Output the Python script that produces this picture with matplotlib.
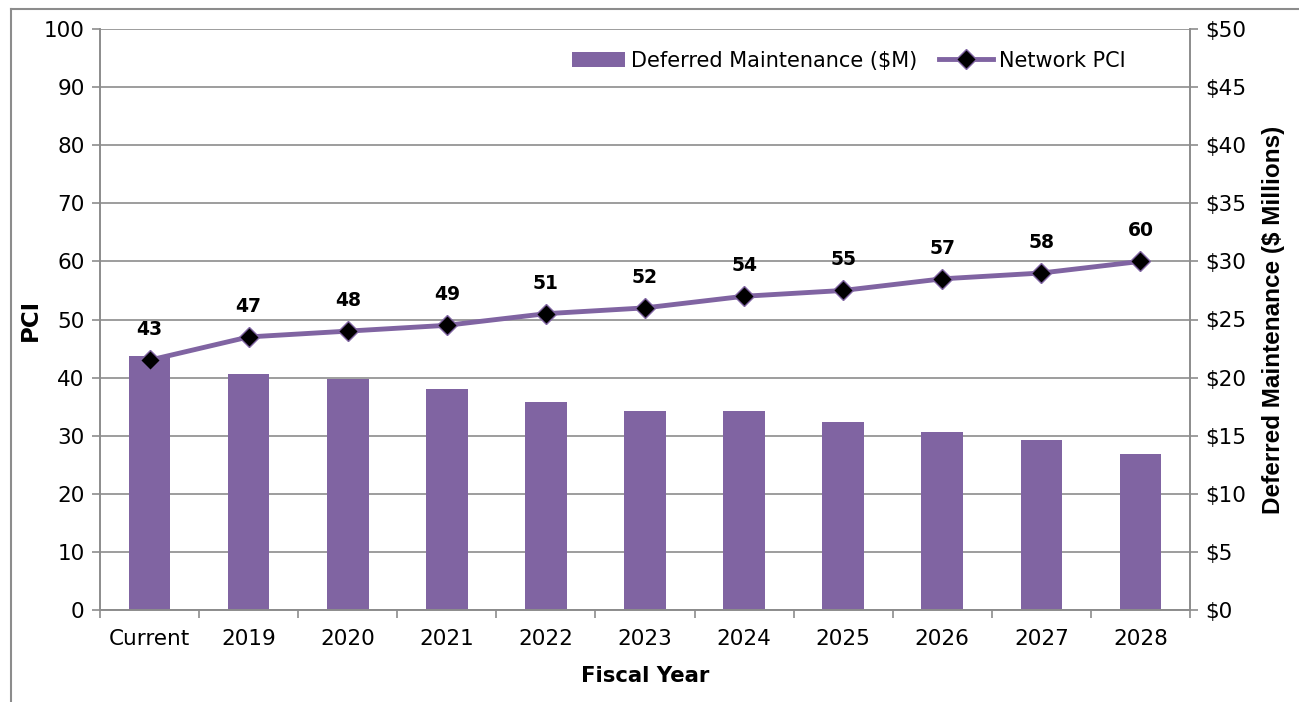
import matplotlib
matplotlib.use("Agg")
import matplotlib.pyplot as plt
from matplotlib.lines import Line2D
import numpy as np

categories = ["Current", "2019", "2020", "2021", "2022", "2023", "2024", "2025", "2026", "2027", "2028"]
deferred_maint = [21.9, 20.3, 19.9, 19.05, 17.9, 17.1, 17.1, 16.2, 15.35, 14.6, 13.45]  # $M
network_pci = [43, 47, 48, 49, 51, 52, 54, 55, 57, 58, 60]

purple = "#8064A2"
gray = "#8C8C8C"

plt.rcParams['font.family'] = ['DejaVu Sans']

fig = plt.figure(figsize=(12.99, 7.02), dpi=100)
ax = fig.add_axes([100/1299, 92/702, 1090/1299, 581/702])
ax2 = ax.twinx()

x = np.arange(len(categories))

# bars on right axis
bars = ax2.bar(x, deferred_maint, width=0.42, color=purple, zorder=2,
               label="Deferred Maintenance ($M)")
ax2.set_ylim(0, 50)
ax2.set_yticks(np.arange(0, 51, 5))
ax2.set_yticklabels([f"${v}" for v in range(0, 51, 5)])
ax2.yaxis.grid(True, color=gray, lw=1.2)
ax2.set_axisbelow(True)

# line on left axis
ax.set_zorder(ax2.get_zorder() + 1)
ax.patch.set_visible(False)
line, = ax.plot(x, network_pci, color=purple, lw=3.5, marker="D", ms=10.5,
                mfc="black", mec=purple, mew=1.0, zorder=3, label="Network PCI")
for xi, v in zip(x, network_pci):
    ax.annotate(f"{v}", (xi, v), xytext=(0, 22), textcoords="offset points",
                ha="center", va="center", fontsize=13.5, fontweight="bold")

ax.set_ylim(0, 100)
ax.set_yticks(np.arange(0, 101, 10))
ax.tick_params(axis='y', labelsize=15.5, length=6, width=1.2, color=gray, pad=5)
ax2.tick_params(axis='y', labelsize=15.5, length=6, width=1.2, color=gray, pad=5)
ax.set_xlim(-0.5, len(categories) - 0.5)
ax.set_xticks(x)
ax.set_xticklabels(categories, fontsize=15.5)
ax.tick_params(axis='x', which='major', length=0, pad=14)
ax.set_xticks(np.arange(-0.5, len(categories), 1), minor=True)
ax.tick_params(axis='x', which='minor', length=6, width=1.2, color=gray)

for a in (ax, ax2):
    for s in a.spines.values():
        s.set_color(gray)
        s.set_linewidth(1.2)
    a.spines['top'].set_visible(False)

ax.set_ylabel("PCI", fontsize=16.5, fontweight="bold")
ax.yaxis.set_label_coords(-0.053, 0.5)
ax2.set_ylabel("Deferred Maintenance ($ Millions)", fontsize=17.5, fontweight="bold",
               family="Liberation Sans")
ax2.yaxis.set_label_coords(1.066, 0.5)
ax.set_xlabel("Fiscal Year", fontsize=15.3, fontweight="bold", labelpad=12)

leg = ax.legend([bars, line], ["Deferred Maintenance ($M)", "Network PCI"],
                loc="upper right", bbox_to_anchor=(0.958, 0.995), ncol=2, frameon=False,
                fontsize=15, handlelength=2.55, handletextpad=0.3, columnspacing=1.05)

# outer frame
fig.add_artist(Line2D([11/1299, 11/1299], [0, 1 - 9/702], color=gray, lw=1.5,
                      transform=fig.transFigure))
fig.add_artist(Line2D([11/1299, 1], [1 - 9/702, 1 - 9/702], color=gray, lw=1.5,
                      transform=fig.transFigure))

fig.savefig("out.png", dpi=100)
